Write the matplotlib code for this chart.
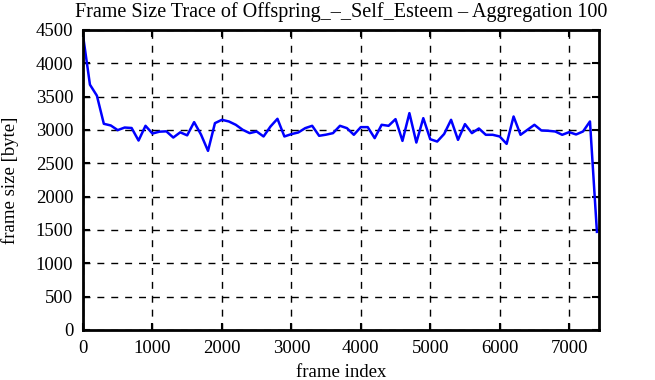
import numpy as np
import matplotlib
matplotlib.use('Agg')
import matplotlib.pyplot as plt

# aggregated frame sizes, one value per 100 frames
frame_index = np.arange(0, 7500, 100)
frame_size = [
    4420, 3680, 3515, 3093, 3068, 2998, 3037, 3030, 2842, 3063,
    2947, 2975, 2980, 2887, 2965, 2920, 3118, 2930, 2687, 3103,
    3153, 3128, 3078, 3003, 2953, 2978, 2903, 3053, 3168, 2903,
    2938, 2963, 3028, 3063, 2913, 2930, 2953, 3063, 3028, 2928,
    3043, 3043, 2878, 3078, 3063, 3163, 2837, 3253, 2812, 3178,
    2862, 2827, 2940, 3153, 2852, 3088, 2953, 3023, 2928, 2928,
    2903, 2792, 3203, 2928, 3003, 3078, 2993, 2988, 2978, 2928,
    2968, 2933, 2978, 3128, 1472,
]
x_ticks = np.arange(0, 8000, 1000)
y_ticks = np.arange(0, 5000, 500)

plt.rcParams['font.family'] = ['Liberation Serif', 'DejaVu Serif']
plt.rcParams['font.size'] = 13.5

fig = plt.figure(figsize=(6.55, 3.8), dpi=100)
ax = fig.add_axes([83 / 655, 1 - 330 / 380, (599 - 83) / 655, (330 - 30) / 380])

ax.plot(frame_index, frame_size, color='#0000ff', linewidth=1.8)

ax.set_xlim(0, 7430)
ax.set_ylim(0, 4500)
ax.set_xticks(x_ticks)
ax.set_yticks(y_ticks)
ax.grid(True, color='black', linestyle=(0, (5, 5)), linewidth=1)
ax.tick_params(direction='in', top=True, right=True, length=5, width=1.5, pad=7)
for s in ax.spines.values():
    s.set_linewidth(2)

fig.text(341 / 655, 1 - 12 / 380,
         'Frame Size Trace of Offspring_\u2013_Self_Esteem \u2013 Aggregation 100',
         ha='center', va='center', fontsize=14.5)
ax.set_xlabel('frame index', labelpad=5)
ax.set_ylabel('frame size [byte]', labelpad=12)

fig.savefig('out.png', dpi=100)
